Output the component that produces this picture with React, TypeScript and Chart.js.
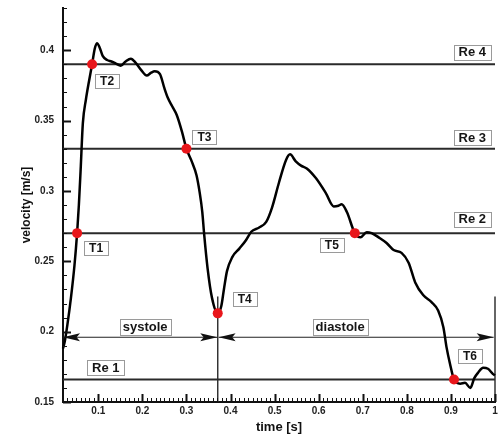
import { useEffect, useRef } from "react";
import { Chart, registerables } from "chart.js";

Chart.register(...registerables);

// Flow waveform over one cardiac cycle
const TIME = [
  0.02, 0.024, 0.03, 0.038, 0.046, 0.052, 0.056, 0.06, 0.065, 0.072, 0.079, 0.086, 0.092, 0.097,
  0.103, 0.11, 0.12, 0.13, 0.14, 0.151, 0.162, 0.174, 0.185, 0.197, 0.21, 0.22, 0.228, 0.24,
  0.25, 0.258, 0.268, 0.278, 0.29, 0.3, 0.312, 0.323, 0.33, 0.336, 0.34, 0.348, 0.358, 0.371,
  0.379, 0.385, 0.392, 0.404, 0.42, 0.435, 0.447, 0.465, 0.481, 0.494, 0.51, 0.526, 0.535,
  0.548, 0.56, 0.573, 0.594, 0.616, 0.634, 0.645, 0.652, 0.664, 0.682, 0.695, 0.709, 0.72,
  0.736, 0.754, 0.77, 0.788, 0.804, 0.819, 0.837, 0.856, 0.871, 0.883, 0.89, 0.898, 0.907,
  0.921, 0.932, 0.944, 0.953, 0.962, 0.973, 0.984, 0.995, 1.0,
];
const VELOCITY = [
  0.188, 0.193, 0.205, 0.224, 0.247, 0.27, 0.29, 0.315, 0.348, 0.365, 0.378, 0.39, 0.401, 0.405,
  0.402, 0.396, 0.393, 0.392, 0.3905, 0.389, 0.392, 0.394, 0.391, 0.386, 0.382, 0.384, 0.385, 0.383,
  0.373, 0.366, 0.36, 0.354, 0.342, 0.33, 0.321, 0.311, 0.299, 0.285, 0.27, 0.245, 0.224, 0.213,
  0.218, 0.23, 0.243, 0.253, 0.259, 0.265, 0.271, 0.274, 0.278, 0.288, 0.306, 0.322, 0.326,
  0.321, 0.318, 0.316, 0.309, 0.2986, 0.289, 0.2895, 0.2905, 0.285, 0.27, 0.267, 0.2707, 0.27,
  0.267, 0.263, 0.258, 0.256, 0.249, 0.235, 0.226, 0.221, 0.215, 0.203, 0.189, 0.177, 0.166,
  0.163, 0.1636, 0.16, 0.167, 0.171, 0.1743, 0.1736, 0.17, 0.169,
];

// Sampling instants
const POINT_LABELS = ["T1", "T2", "T3", "T4", "T5", "T6"];
const POINT_TIME = [0.052, 0.086, 0.3, 0.371, 0.682, 0.907];
const POINT_VELOCITY = [0.27, 0.39, 0.33, 0.213, 0.27, 0.166];

// Reynolds-number reference levels
const RE_LABELS = ["Re 1", "Re 2", "Re 3", "Re 4"];
const RE_VELOCITY = [0.166, 0.27, 0.33, 0.39];

// Cardiac phases
const PHASE_LABELS = ["systole", "diastole"];
const PHASE_START = [0.02, 0.373];
const PHASE_END = [0.37, 0.997];
const PHASE_LEVEL = 0.196;
const MARKER_TIME = [0.371, 1.0];
const MARKER_TOP = 0.225;

// Axes
const X_MIN = 0.02;
const X_MAX = 1.0;
const Y_MIN = 0.15;
const Y_MAX = 0.43;
const X_TICKS = [0.1, 0.2, 0.3, 0.4, 0.5, 0.6, 0.7, 0.8, 0.9, 1.0];
const X_TICK_LABELS = ["0.1", "0.2", "0.3", "0.4", "0.5", "0.6", "0.7", "0.8", "0.9", "1"];
const Y_TICKS = [0.15, 0.2, 0.25, 0.3, 0.35, 0.4];
const Y_TICK_LABELS = ["0.15", "0.2", "0.25", "0.3", "0.35", "0.4"];

// Label placement (pixel offsets)
const POINT_LABEL_OFFSETS = [
  [19, 15],
  [15, 17],
  [18, -12],
  [27, -14],
  [-23, 12],
  [16, -23],
];
const RE_LABEL_PLACEMENT = [
  { side: "left", dx: 24, dy: -12 },
  { side: "right", dx: -4, dy: -14 },
  { side: "right", dx: -4, dy: -11 },
  { side: "right", dx: -4, dy: -12 },
];
const PHASE_LABEL_OFFSETS = [
  [5, -10],
  [-16, -10],
];

const FONT_FAMILY = "'Liberation Sans', Arial, sans-serif";

function drawBox(
  ctx: CanvasRenderingContext2D,
  text: string,
  cx: number,
  cy: number,
  size: number,
  padX: number,
  h: number,
  anchor: "center" | "left" | "right" = "center"
) {
  ctx.save();
  ctx.font = `bold ${size}px ${FONT_FAMILY}`;
  const w = ctx.measureText(text).width + padX * 2;
  let left = cx - w / 2;
  if (anchor === "left") left = cx;
  if (anchor === "right") left = cx - w;
  const top = cy - h / 2;
  ctx.fillStyle = "#ffffff";
  ctx.fillRect(left, top, w, h);
  ctx.strokeStyle = "#9a9a9a";
  ctx.lineWidth = 1;
  ctx.strokeRect(Math.round(left) + 0.5, Math.round(top) + 0.5, Math.round(w), Math.round(h));
  ctx.fillStyle = "#151515";
  ctx.textAlign = "center";
  ctx.textBaseline = "middle";
  ctx.fillText(text, left + w / 2, cy + 0.5);
  ctx.restore();
}

function drawArrowHead(ctx: CanvasRenderingContext2D, tipX: number, y: number, dir: number) {
  const len = 17;
  const half = 4;
  ctx.beginPath();
  ctx.moveTo(tipX, y);
  ctx.lineTo(tipX - dir * len, y - half);
  ctx.lineTo(tipX - dir * len * 0.8, y);
  ctx.lineTo(tipX - dir * len, y + half);
  ctx.closePath();
  ctx.fill();
}

const decorations = {
  id: "decorations",
  afterDatasetsDraw(chart: any) {
    const ctx: CanvasRenderingContext2D = chart.ctx;
    const xs = chart.scales.x;
    const ys = chart.scales.y;
    const area = chart.chartArea;

    // inward tick marks, majors and minors every 0.01
    ctx.save();
    ctx.strokeStyle = "#111";
    for (let i = 15; i <= 43; i++) {
      const y = Math.round(ys.getPixelForValue(i / 100)) + 0.5;
      const major = i % 5 === 0;
      ctx.lineWidth = major ? 2 : 1;
      ctx.beginPath();
      ctx.moveTo(area.left, y);
      ctx.lineTo(area.left + (major ? 8 : 4), y);
      ctx.stroke();
    }
    for (let i = 2; i <= 100; i++) {
      const x = Math.round(xs.getPixelForValue(i / 100)) + 0.5;
      const major = i % 10 === 0;
      ctx.lineWidth = major ? 2 : 1;
      ctx.beginPath();
      ctx.moveTo(x, area.bottom);
      ctx.lineTo(x, area.bottom - (major ? 8 : 4));
      ctx.stroke();
    }
    ctx.restore();

    // phase arrows
    ctx.save();
    ctx.fillStyle = "#111";
    const py = ys.getPixelForValue(PHASE_LEVEL);
    PHASE_LABELS.forEach((label, i) => {
      const x0 = xs.getPixelForValue(PHASE_START[i]);
      const x1 = xs.getPixelForValue(PHASE_END[i]);
      drawArrowHead(ctx, x0, py, -1);
      drawArrowHead(ctx, x1, py, 1);
      const [dx, dy] = PHASE_LABEL_OFFSETS[i];
      drawBox(ctx, label, (x0 + x1) / 2 + dx, py + dy, 13, 3, 16);
    });
    ctx.restore();

    // Reynolds labels
    RE_LABELS.forEach((label, i) => {
      const p = RE_LABEL_PLACEMENT[i];
      const y = ys.getPixelForValue(RE_VELOCITY[i]) + p.dy;
      if (p.side === "left") drawBox(ctx, label, area.left + p.dx, y, 13, 5, 15, "left");
      else drawBox(ctx, label, area.right + p.dx, y, 13, 5, 15, "right");
    });

    // instant labels
    POINT_LABELS.forEach((label, i) => {
      const [dx, dy] = POINT_LABEL_OFFSETS[i];
      const x = xs.getPixelForValue(POINT_TIME[i]) + dx;
      const y = ys.getPixelForValue(POINT_VELOCITY[i]) + dy;
      drawBox(ctx, label, x, y, 12, 5, 14);
    });
  },
};

export default function App() {
  const canvasRef = useRef<HTMLCanvasElement | null>(null);

  useEffect(() => {
    const canvas = canvasRef.current;
    if (!canvas) return;

    const refLines = RE_VELOCITY.map((v) => ({
      type: "line" as const,
      data: [
        { x: X_MIN, y: v },
        { x: X_MAX, y: v },
      ],
      borderColor: "#2a2a2a",
      borderWidth: 2,
      pointRadius: 0,
      clip: false as const,
      order: 3,
    }));

    const markerLines = MARKER_TIME.map((t) => ({
      type: "line" as const,
      data: [
        { x: t, y: Y_MIN },
        { x: t, y: MARKER_TOP },
      ],
      borderColor: "#333",
      borderWidth: 1.5,
      pointRadius: 0,
      clip: false as const,
      order: 3,
    }));

    const phaseLines = PHASE_LABELS.map((_, i) => ({
      type: "line" as const,
      data: [
        { x: PHASE_START[i], y: PHASE_LEVEL },
        { x: PHASE_END[i], y: PHASE_LEVEL },
      ],
      borderColor: "#222",
      borderWidth: 1.2,
      pointRadius: 0,
      clip: false as const,
      order: 3,
    }));

    const chart = new Chart(canvas, {
      type: "line",
      data: {
        datasets: [
          {
            data: TIME.map((t, i) => ({ x: t, y: VELOCITY[i] })),
            borderColor: "#000",
            borderWidth: 2.5,
            pointRadius: 0,
            cubicInterpolationMode: "monotone",
            clip: false,
            order: 2,
          },
          ...refLines,
          ...markerLines,
          ...phaseLines,
          {
            data: POINT_TIME.map((t, i) => ({ x: t, y: POINT_VELOCITY[i] })),
            showLine: false,
            pointRadius: 5,
            pointBackgroundColor: "#e8161b",
            pointBorderColor: "#e8161b",
            pointBorderWidth: 0,
            clip: false,
            order: 0,
          },
        ] as any,
      },
      options: {
        responsive: false,
        animation: false,
        devicePixelRatio: 1,
        layout: { padding: { top: 8, right: 7, left: 0, bottom: 0 } },
        plugins: {
          legend: { display: false },
          tooltip: { enabled: false },
        },
        scales: {
          x: {
            type: "linear",
            min: X_MIN,
            max: X_MAX,
            grid: { display: false, drawTicks: false },
            border: { display: true, color: "#111", width: 2 },
            afterBuildTicks: (scale: any) => {
              scale.ticks = X_TICKS.map((v) => ({ value: v }));
            },
            afterFit: (scale: any) => {
              scale.height = 36;
              scale.paddingLeft = 0;
              scale.paddingRight = 0;
            },
            ticks: {
              autoSkip: false,
              maxRotation: 0,
              padding: 3,
              color: "#222",
              font: { family: FONT_FAMILY, size: 10, weight: "bold" },
              callback: (value: any) => {
                const idx = X_TICKS.findIndex((v) => Math.abs(v - Number(value)) < 1e-6);
                return idx >= 0 ? X_TICK_LABELS[idx] : "";
              },
            },
            title: {
              display: true,
              text: "time [s]",
              color: "#111",
              padding: { top: 0, bottom: 3 },
              font: { family: FONT_FAMILY, size: 13, weight: "bold" },
            },
          },
          y: {
            type: "linear",
            min: Y_MIN,
            max: Y_MAX,
            grid: { display: false, drawTicks: false },
            border: { display: true, color: "#111", width: 2 },
            afterBuildTicks: (scale: any) => {
              scale.ticks = Y_TICKS.map((v) => ({ value: v }));
            },
            afterFit: (scale: any) => {
              scale.width = 63;
              scale.paddingTop = 0;
              scale.paddingBottom = 0;
            },
            ticks: {
              autoSkip: false,
              padding: 9,
              color: "#222",
              font: { family: FONT_FAMILY, size: 10, weight: "bold" },
              callback: (value: any) => {
                const idx = Y_TICKS.findIndex((v) => Math.abs(v - Number(value)) < 1e-6);
                return idx >= 0 ? Y_TICK_LABELS[idx] : "";
              },
            },
            title: {
              display: true,
              text: "velocity [m/s]",
              color: "#111",
              padding: { top: 19, bottom: 0 },
              font: { family: FONT_FAMILY, size: 12, weight: "bold" },
            },
          },
        },
      },
      plugins: [decorations],
    });

    return () => chart.destroy();
  }, []);

  return (
    <div style={{ position: "absolute", left: 0, top: 0, width: 502, height: 438, background: "#fff" }}>
      <canvas ref={canvasRef} width={502} height={438} />
    </div>
  );
}
